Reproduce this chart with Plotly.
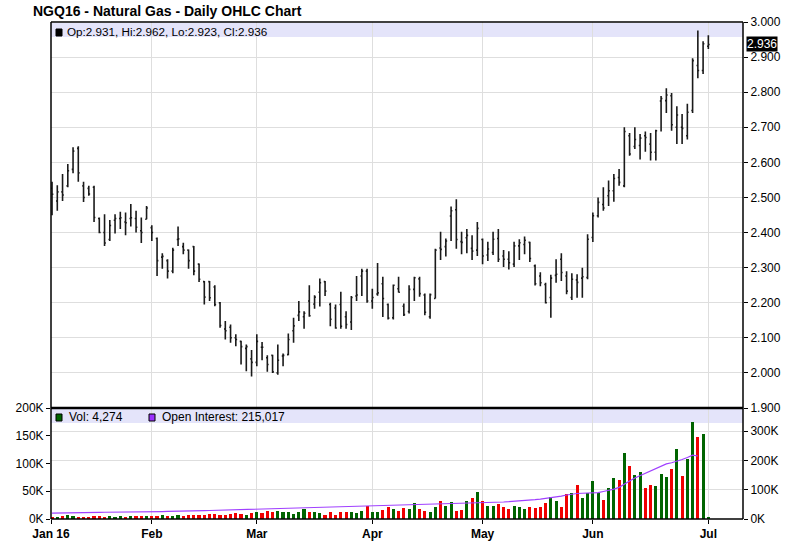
import pandas as pd
import plotly.graph_objects as go

# ---------------- data ----------------
holidays = ["2016-01-18", "2016-02-15", "2016-03-25", "2016-05-30"]
dates = [d for d in pd.bdate_range("2016-01-04", "2016-07-01") if d.strftime("%Y-%m-%d") not in holidays]

opens = [2.526, 2.490, 2.516, 2.533, 2.580, 2.640, 2.533, 2.526, 2.529, 2.440,
         2.400, 2.380, 2.435, 2.440, 2.430, 2.440, 2.440, 2.405, 2.438, 2.414,
         2.383, 2.330, 2.320, 2.290, 2.380, 2.360, 2.350, 2.360, 2.310, 2.260,
         2.260, 2.245, 2.200, 2.125, 2.130, 2.100, 2.090, 2.070, 2.040, 2.030,
         2.073, 2.043, 2.050, 2.000, 2.048, 2.052, 2.120, 2.164, 2.160, 2.205,
         2.196, 2.230, 2.260, 2.195, 2.185, 2.195, 2.160, 2.145, 2.219, 2.276,
         2.290, 2.205, 2.225, 2.254, 2.195, 2.157, 2.240, 2.190, 2.175, 2.238,
         2.268, 2.222, 2.160, 2.212, 2.356, 2.360, 2.447, 2.465, 2.374, 2.385,
         2.355, 2.350, 2.380, 2.336, 2.343, 2.383, 2.333, 2.324, 2.310, 2.362,
         2.366, 2.372, 2.305, 2.276, 2.252, 2.215, 2.278, 2.324, 2.276, 2.215,
         2.265, 2.270, 2.272, 2.386, 2.448, 2.480, 2.505, 2.519, 2.557, 2.533,
         2.676, 2.645, 2.648, 2.676, 2.652, 2.629, 2.775, 2.776, 2.790, 2.700,
         2.700, 2.676, 2.748, 2.876, 2.862, 2.931]
highs = [2.545, 2.535, 2.567, 2.595, 2.643, 2.646, 2.545, 2.533, 2.533, 2.443,
         2.452, 2.436, 2.452, 2.459, 2.457, 2.481, 2.462, 2.443, 2.476, 2.421,
         2.386, 2.341, 2.324, 2.357, 2.417, 2.371, 2.352, 2.362, 2.312, 2.262,
         2.262, 2.250, 2.202, 2.148, 2.138, 2.110, 2.092, 2.081, 2.065, 2.110,
         2.088, 2.050, 2.052, 2.081, 2.055, 2.112, 2.157, 2.205, 2.176, 2.250,
         2.221, 2.269, 2.262, 2.200, 2.195, 2.231, 2.176, 2.219, 2.276, 2.297,
         2.297, 2.240, 2.313, 2.274, 2.198, 2.252, 2.274, 2.198, 2.250, 2.274,
         2.274, 2.226, 2.226, 2.354, 2.402, 2.383, 2.474, 2.495, 2.402, 2.410,
         2.392, 2.430, 2.383, 2.374, 2.402, 2.410, 2.350, 2.347, 2.374, 2.381,
         2.389, 2.374, 2.309, 2.287, 2.257, 2.280, 2.324, 2.341, 2.290, 2.284,
         2.281, 2.300, 2.395, 2.457, 2.500, 2.529, 2.548, 2.567, 2.581, 2.700,
         2.684, 2.700, 2.681, 2.688, 2.684, 2.693, 2.789, 2.811, 2.798, 2.760,
         2.738, 2.767, 2.897, 2.976, 2.945, 2.962]
lows = [2.449, 2.462, 2.490, 2.529, 2.569, 2.545, 2.487, 2.505, 2.430, 2.398,
        2.362, 2.376, 2.397, 2.410, 2.392, 2.417, 2.400, 2.370, 2.438, 2.376,
        2.276, 2.297, 2.269, 2.284, 2.362, 2.338, 2.297, 2.278, 2.259, 2.195,
        2.205, 2.190, 2.129, 2.095, 2.086, 2.076, 2.024, 2.005, 1.990, 2.019,
        2.036, 2.003, 2.000, 1.995, 2.019, 2.050, 2.086, 2.148, 2.126, 2.160,
        2.183, 2.189, 2.219, 2.133, 2.126, 2.126, 2.126, 2.122, 2.205, 2.219,
        2.200, 2.183, 2.220, 2.159, 2.152, 2.152, 2.229, 2.162, 2.169, 2.205,
        2.217, 2.164, 2.154, 2.212, 2.322, 2.332, 2.376, 2.354, 2.338, 2.341,
        2.322, 2.333, 2.310, 2.319, 2.336, 2.316, 2.302, 2.295, 2.302, 2.322,
        2.338, 2.316, 2.249, 2.247, 2.198, 2.157, 2.257, 2.262, 2.224, 2.208,
        2.214, 2.214, 2.267, 2.373, 2.443, 2.462, 2.476, 2.488, 2.533, 2.529,
        2.619, 2.638, 2.608, 2.630, 2.605, 2.605, 2.688, 2.741, 2.690, 2.652,
        2.652, 2.665, 2.741, 2.840, 2.852, 2.923]
closes = [2.509, 2.516, 2.507, 2.576, 2.632, 2.570, 2.500, 2.510, 2.443, 2.400,
          2.370, 2.420, 2.440, 2.442, 2.428, 2.442, 2.415, 2.400, 2.470, 2.400,
          2.320, 2.332, 2.290, 2.350, 2.382, 2.350, 2.320, 2.290, 2.267, 2.216,
          2.214, 2.195, 2.135, 2.120, 2.100, 2.095, 2.075, 2.075, 2.030, 2.090,
          2.073, 2.024, 2.003, 2.036, 2.050, 2.095, 2.134, 2.174, 2.170, 2.163,
          2.216, 2.257, 2.233, 2.153, 2.128, 2.133, 2.138, 2.215, 2.222, 2.290,
          2.205, 2.215, 2.228, 2.212, 2.156, 2.250, 2.230, 2.166, 2.238, 2.271,
          2.226, 2.173, 2.223, 2.350, 2.352, 2.376, 2.462, 2.380, 2.372, 2.392,
          2.347, 2.412, 2.333, 2.353, 2.381, 2.324, 2.324, 2.314, 2.362, 2.371,
          2.378, 2.326, 2.254, 2.257, 2.200, 2.270, 2.281, 2.286, 2.233, 2.267,
          2.258, 2.274, 2.381, 2.448, 2.486, 2.470, 2.519, 2.554, 2.543, 2.688,
          2.624, 2.665, 2.669, 2.671, 2.629, 2.690, 2.782, 2.792, 2.707, 2.735,
          2.697, 2.743, 2.890, 2.862, 2.938, 2.936]

# volume, thousands of contracts
volume_k = [3, 4, 5, 7, 6, 4, 4, 3, 5, 5, 4, 5, 4, 5, 4, 5, 5, 6, 5,
            6, 5, 7, 6, 6, 7, 6, 7, 7, 8, 8, 9, 9, 8, 8, 9, 10, 9, 8, 11,
            12, 11, 14, 13, 14, 12, 13, 9, 12, 18, 12, 12, 10, 7, 12, 8, 12, 13, 12, 11, 15, 24,
            13, 12, 16, 21, 18, 14, 20, 18, 28, 18, 15, 13, 22, 33, 24, 30, 15, 17, 33, 38, 48,
            33, 24, 24, 27, 21, 18, 24, 22, 18, 21, 20, 21, 28, 39, 33, 21, 45, 47, 61, 38, 47,
            68, 47, 35, 55, 73, 71, 119, 95, 79, 85, 55, 61, 59, 81, 75, 91, 127, 77, 109, 174, 147, 153,
            4.274]

# open interest, thousands of contracts (not yet reported for the last two sessions)
open_interest_k = [20, 20, 20.5, 21, 21, 21.5, 21.5, 22, 22, 22.5, 23, 23, 23.5, 23.5, 24, 24, 24.5, 24.5, 25,
                   25, 25.5, 25.5, 26, 26, 26.5, 27, 27, 27.5, 28, 28.5, 29, 29.5, 30, 30, 30.5, 31, 31.5, 32, 32,
                   32.5, 33, 33, 33.5, 34, 34.5, 35, 35.5, 36, 36.5, 37, 37.5, 38, 38.5, 39, 39.5, 40, 40.5, 41, 41.5, 42, 42.5,
                   43, 44, 44.5, 45, 46, 46.5, 47, 47.5, 48, 48.5, 49, 49.5, 50, 50.5, 51, 52, 52.5, 53, 54, 55, 55.5,
                   56, 56.5, 57, 57.5, 58, 59, 60, 61, 62, 64, 66, 68, 70, 72, 74, 78, 82, 85, 87, 88, 88,
                   88, 90, 94, 97, 102, 108, 120, 130, 140, 148, 155, 163, 172, 180, 188, 192, 197, 203, 210, 218, 215.017]

month_labels = ["Jan 16", "Feb", "Mar", "Apr", "May", "Jun", "Jul"]
price_ticks = [1.9, 2.0, 2.1, 2.2, 2.3, 2.4, 2.5, 2.6, 2.7, 2.8, 2.9, 3.0]
vol_ticks = [0, 50, 100, 150, 200]
oi_ticks = [0, 100, 200, 300]

# ---------------- figure ----------------
FONT = "Arial, 'Liberation Sans', sans-serif"
W, H = 796, 549
ML, MR, MT, MB = 51, 53, 22, 30
PW, PH = W - ML - MR, H - MT - MB
split = (519 - 408) / PH

idx = list(range(len(dates)))
month_starts = []
for i, d in enumerate(dates):
    if i == 0 or d.month != dates[i - 1].month:
        month_starts.append(i)
tickpos = [-0.2] + month_starts[1:]

GREEN, RED = "#006400", "#f00000"
bar_colors = [GREEN if c > o else RED for o, c in zip(opens, closes)]

fig = go.Figure()
fig.add_trace(go.Ohlc(
    x=idx, open=opens, high=highs, low=lows, close=closes,
    increasing=dict(line=dict(color="#1a1a1a", width=1.6)),
    decreasing=dict(line=dict(color="#1a1a1a", width=1.6)),
    tickwidth=0.25, xaxis="x", yaxis="y", showlegend=False, hoverinfo="skip"))
fig.add_trace(go.Bar(
    x=idx, y=volume_k, marker=dict(color=bar_colors, line=dict(width=0)),
    width=0.6, xaxis="x", yaxis="y2", showlegend=False, hoverinfo="skip"))
fig.add_trace(go.Scatter(
    x=idx[:len(open_interest_k)], y=open_interest_k, mode="lines",
    line=dict(color="#a040ff", width=1.2), xaxis="x", yaxis="y3",
    showlegend=False, hoverinfo="skip"))

grid = "#dedede"
fig.update_layout(
    width=W, height=H, margin=dict(l=ML, r=MR, t=MT, b=MB, pad=0, autoexpand=False),
    paper_bgcolor="white", plot_bgcolor="white",
    font=dict(family=FONT, size=12, color="black"),
    xaxis=dict(domain=[0, 1], anchor="y2", range=[-0.2, 131.6], automargin=False,
               tickmode="array", tickvals=tickpos,
               ticktext=["<b>%s</b>" % t for t in month_labels],
               showgrid=True, gridcolor=grid, gridwidth=1,
               ticks="outside", ticklen=4, tickcolor="black",
               tickfont=dict(size=12), zeroline=False, showline=False,
               rangeslider=dict(visible=False), fixedrange=True),
    yaxis=dict(domain=[split, 1], anchor="x", side="right", range=[1.9, 3.0], automargin=False,
               tickmode="array", tickvals=price_ticks,
               ticktext=["%.3f" % v for v in price_ticks],
               showgrid=True, gridcolor=grid, gridwidth=1,
               ticks="outside", ticklen=4, tickcolor="black",
               zeroline=False, showline=False),
    yaxis2=dict(domain=[0, split], anchor="x", side="left", range=[0, 200], automargin=False,
                tickmode="array", tickvals=vol_ticks,
                ticktext=["%dK" % v for v in vol_ticks],
                showgrid=False, ticks="outside", ticklen=4, tickcolor="black",
                zeroline=False, showline=False),
    yaxis3=dict(overlaying="y2", anchor="x", side="right", range=[0, 379], automargin=False,
                tickmode="array", tickvals=oi_ticks,
                ticktext=["%dK" % v for v in oi_ticks],
                showgrid=True, gridcolor=grid, gridwidth=1,
                ticks="outside", ticklen=4, tickcolor="black",
                zeroline=False, showline=False),
    bargap=0,
)

def py(px):  # pixel y -> paper y
    return (H - MB - px) / PH

def pxx(px):  # pixel x -> paper x
    return (px - ML) / PW

shapes = [
    # legend bands
    dict(type="rect", xref="paper", yref="paper", x0=0, x1=1, y0=py(37), y1=py(23),
         fillcolor="#e4e4fa", line=dict(width=0), layer="below"),
    dict(type="rect", xref="paper", yref="paper", x0=0, x1=1, y0=py(423), y1=py(409),
         fillcolor="#e4e4fa", line=dict(width=0), layer="below"),
    # frame
    dict(type="line", xref="paper", yref="paper", x0=0, x1=0, y0=0, y1=1, line=dict(color="black", width=1.5)),
    dict(type="line", xref="paper", yref="paper", x0=1, x1=1, y0=0, y1=1, line=dict(color="black", width=1.5)),
    dict(type="line", xref="paper", yref="paper", x0=0, x1=1, y0=1, y1=1, line=dict(color="black", width=1.5)),
    dict(type="line", xref="paper", yref="paper", x0=0, x1=1, y0=0, y1=0, line=dict(color="black", width=1.5)),
    dict(type="line", xref="paper", yref="paper", x0=0, x1=1, y0=split, y1=split, line=dict(color="black", width=2.5)),
    # legend swatches
    dict(type="rect", xref="paper", yref="paper", x0=pxx(56), x1=pxx(62), y0=py(36), y1=py(29),
         fillcolor="black", line=dict(color="black", width=1)),
    dict(type="rect", xref="paper", yref="paper", x0=pxx(56), x1=pxx(62), y0=py(421), y1=py(414),
         fillcolor=GREEN, line=dict(color="black", width=1)),
    dict(type="rect", xref="paper", yref="paper", x0=pxx(149), x1=pxx(155), y0=py(421), y1=py(414),
         fillcolor="#9b30ff", line=dict(color="black", width=1)),
]
fig.update_layout(shapes=shapes)

def vol_fmt(v):
    return "{:,}".format(int(round(v * 1000)))

ann = [
    dict(text="<b>NGQ16 - Natural Gas - Daily OHLC Chart</b>", xref="paper", yref="paper",
         x=pxx(31), y=py(11), xanchor="left", yanchor="middle", showarrow=False,
         font=dict(size=14, color="black")),
    dict(text="Op:%.3f, Hi:%.3f, Lo:%.3f, Cl:%.3f" % (opens[-1], highs[-1], lows[-1], closes[-1]),
         xref="paper", yref="paper", x=pxx(65), y=py(31), xanchor="left", yanchor="middle",
         showarrow=False, font=dict(size=11.7, color="black")),
    dict(text="Vol: %s" % vol_fmt(volume_k[-1]),
         xref="paper", yref="paper", x=pxx(67), y=py(417), xanchor="left", yanchor="middle",
         showarrow=False, font=dict(size=12, color="black")),
    dict(text="Open Interest: %s" % vol_fmt(open_interest_k[-1]),
         xref="paper", yref="paper", x=pxx(160), y=py(417), xanchor="left", yanchor="middle",
         showarrow=False, font=dict(size=12, color="black")),
    dict(text="%.3f" % closes[-1], xref="paper", yref="y", x=1, y=closes[-1],
         xanchor="left", yanchor="middle", xshift=3, showarrow=False,
         bgcolor="black", borderpad=0, font=dict(size=12, color="white")),
]
fig.update_layout(annotations=ann)

fig.write_html("out.html", config={"displayModeBar": False},
               post_script="document.body.style.margin='0px';")
